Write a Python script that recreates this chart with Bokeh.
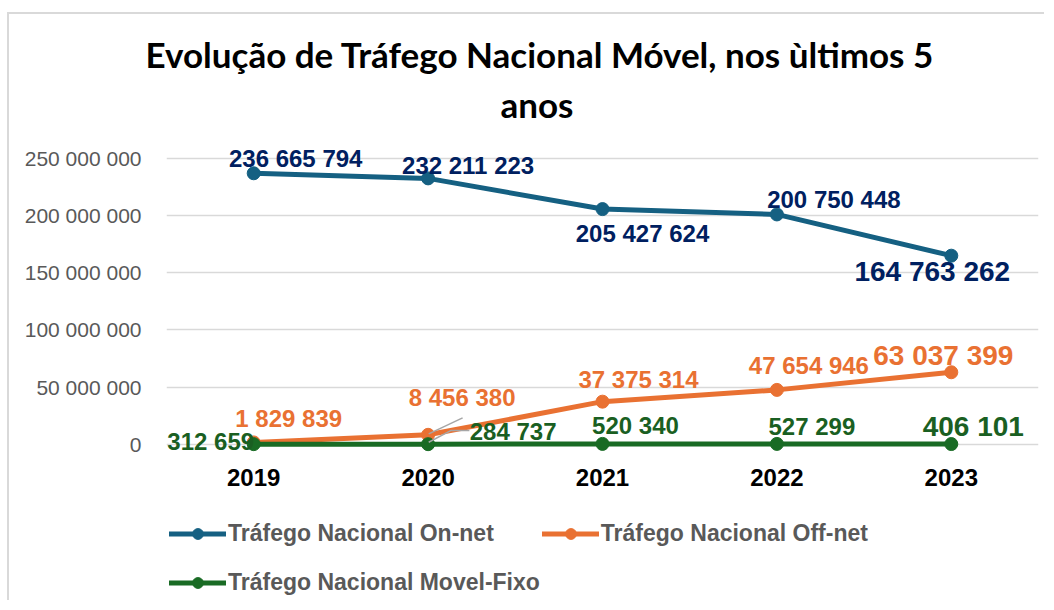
from bokeh.plotting import figure
from bokeh.models import Range1d, FixedTicker, Legend, LegendItem, Title, ColumnDataSource
from bokeh.core.properties import value
from bokeh.embed import file_html
from bokeh.resources import INLINE

# ---------------- data ----------------
years = ["2019", "2020", "2021", "2022", "2023"]
on_net = [236665794, 232211223, 205427624, 200750448, 164763262]
off_net = [1829839, 8456380, 37375314, 47654946, 63037399]
movel_fixo = [312659, 284737, 520340, 527299, 406101]
series_names = ["Tráfego Nacional On-net", "Tráfego Nacional Off-net", "Tráfego Nacional Movel-Fixo"]
y_ticks = [0, 50000000, 100000000, 150000000, 200000000, 250000000]
y_tick_labels = ["0", "50 000 000", "100 000 000", "150 000 000", "200 000 000", "250 000 000"]
title_lines = ["Evolução de Tráfego Nacional Móvel, nos ùltimos 5", "anos"]

# ---------------- styling / layout ----------------
line_colors = ["#156082", "#E97132", "#196B24"]
label_colors = ["#002060", "#E97132", "#1A5F22"]
# data-label pixel offsets (dx right, dy down) per series / point
label_dx = [[42, 40, 40, 57, -19], [35, 34, 36, 32, -8], [-43, 85, 33, 35, 22]]
label_dy = [[-15, -13, 24, -15, 16], [-24, -37, -22, -24, -17], [-3, -13, -18, -17, -18]]
label_size = [["24px"] * 4 + ["28px"], ["24px"] * 4 + ["28px"], ["24px"] * 4 + ["28px"]]

CANVAS_LEFT, CANVAS_TOP = 9, 14
W, H = 1037, 588
FRAME_L, FRAME_R = 166, 1038
FRAME_T, FRAME_B = 130, 602
Y0_PX, Y250_PX = 444, 157.5
ppu = (Y0_PX - Y250_PX) / 250e6
xpx = (FRAME_R - FRAME_L) / len(years)

FONT = "Liberation Sans"

p = figure(width=W, height=H, output_backend="svg", toolbar_location=None,
           x_range=Range1d(-0.5, len(years) - 0.5),
           y_range=Range1d(-(FRAME_B - Y0_PX) / ppu, (Y0_PX - FRAME_T) / ppu),
           x_axis_location=None,
           min_border_left=FRAME_L - CANVAS_LEFT, min_border_right=CANVAS_LEFT + W - FRAME_R,
           min_border_top=FRAME_T - CANVAS_TOP, min_border_bottom=0,
           outline_line_color=None,
           styles={"border-left": "2px solid #D9D9D9", "border-top": "2px solid #D9D9D9",
                   "margin-top": "12px", "margin-left": "7px"})

p.title.visible = False
p.xgrid.visible = False
p.xgrid.grid_line_color = None

# y axis
yax = p.yaxis[0]
yax.ticker = FixedTicker(ticks=y_ticks)
yax.major_label_overrides = {t: s for t, s in zip(y_ticks, y_tick_labels)}
yax.axis_line_color = None
yax.major_tick_line_color = None
yax.minor_tick_line_color = None
yax.major_label_standoff = 19
yax.major_label_text_font = FONT
yax.major_label_text_font_size = "21px"
yax.major_label_text_color = "#595959"
p.ygrid.grid_line_color = "#D9D9D9"
p.ygrid.grid_line_width = 1.6

idx = list(range(len(years)))
all_series = [on_net, off_net, movel_fixo]
line_r, dot_r = [], []
for vals, c in zip(all_series, line_colors):
    line_r.append(p.line(x=idx, y=vals, line_color=c, line_width=5, line_cap="round", line_join="round"))
    dot_r.append(p.scatter(x=idx, y=vals, size=13, fill_color=c, line_color=c))

# leader lines for 2020 labels
lead_col = "#A6A6A6"
p.segment(x0=[1 + 0.6 / xpx], y0=[off_net[1] + 1 / ppu],
          x1=[1 + 34.5 / xpx], y1=[off_net[1] + 17 / ppu], line_color=lead_col, line_width=1.5)
p.multi_line(xs=[[1 + 0.6 / xpx, 1 + 22.6 / xpx, 1 + 41.3 / xpx]],
             ys=[[movel_fixo[1] + 1.9 / ppu, movel_fixo[1] + 13.6 / ppu, movel_fixo[1] + 13.6 / ppu]],
             line_color=lead_col, line_width=1.5)

# x category labels
p.text(x=idx, y=[0] * len(years), text=years, y_offset=33, text_align="center",
       text_baseline="middle", text_font=value(FONT), text_font_style="bold",
       text_font_size="24px", text_color="black")

# data labels
for k, vals in enumerate(all_series):
    src = ColumnDataSource(dict(x=idx, y=vals, t=[f"{v:,}".replace(",", " ") for v in vals],
                                dx=label_dx[k], dy=label_dy[k], fs=label_size[k]))
    p.text(x="x", y="y", text="t", x_offset="dx", y_offset="dy", source=src,
           text_align="center", text_baseline="middle", text_font=value(FONT),
           text_font_style="bold", text_font_size="fs", text_color=label_colors[k])

# legends
leg_kw = dict(orientation="horizontal", glyph_width=57, glyph_height=27, label_height=27,
              label_standoff=2, padding=0, margin=0, border_line_color=None,
              background_fill_alpha=0, label_text_font=FONT, label_text_font_style="bold",
              label_text_font_size="23px", label_text_color="#595959")
leg1 = Legend(items=[LegendItem(label=series_names[0], renderers=[line_r[0], dot_r[0]]),
                     LegendItem(label=series_names[1], renderers=[line_r[1], dot_r[1]])],
              location=(3, 55.5), spacing=48, **leg_kw)
leg2 = Legend(items=[LegendItem(label=series_names[2], renderers=[line_r[2], dot_r[2]])],
              location=(3, 6.5), spacing=0, **leg_kw)
p.add_layout(leg1)
p.add_layout(leg2)

# titles (second line first: later additions stack further out)
tkw = dict(align="left", text_font="Lato", text_font_size="35px", text_font_style="bold",
           text_color="black")
p.add_layout(Title(text=title_lines[1], offset=334, standoff=12, **tkw), "above")
p.add_layout(Title(text=title_lines[0], offset=-21, standoff=0, **tkw), "above")

open("out.html", "w").write(file_html(p, INLINE))
